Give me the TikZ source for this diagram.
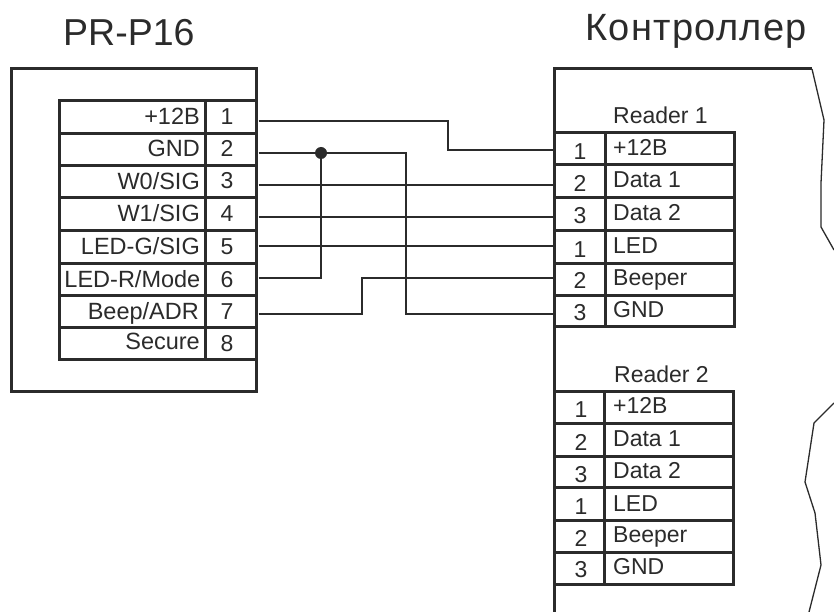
\documentclass[tikz,border=0pt]{standalone}
\usepackage{fontspec}
\setmainfont{Liberation Sans}
\definecolor{ink}{HTML}{2B2B2B}
\tikzset{
  heavy/.style={draw=ink,line width=3pt,line join=miter},
  wire/.style={draw=ink,line width=1.4pt,line join=miter},
  brk/.style={draw=ink,line width=1.3pt,line join=round},
  lab/.style={text=ink,inner sep=0pt,font=\fontsize{23}{27}\selectfont},
  title/.style={text=ink,inner sep=0pt,font=\fontsize{37.5}{42}\selectfont,anchor=base west},
  rlab/.style={lab,anchor=base east,font=\fontsize{23.5}{27}\selectfont},
  llab/.style={lab,anchor=base west},
  num/.style={lab,anchor=base},
  junction/.style={circle,fill=ink,inner sep=0pt,minimum size=12pt}
}
\begin{document}
\begin{tikzpicture}[x=1pt,y=-1pt]
\useasboundingbox (0,0) rectangle (834,612);
\fill[white] (0,0) rectangle (834,612);
% titles
\node[title] (tleft) at (63,46) {PR-P16};
\node[title,font=\fontsize{38}{42}\selectfont\addfontfeature{LetterSpace=3.5}] (tright) at (585,41) {Контроллер};
% left housing and connector
\draw[heavy] (11,69) rectangle (256,391);
\draw[heavy] (59,101) rectangle (256,359);
\draw[heavy] (205,101) -- (205,359);
\foreach \y in {134,166,198,230,263,295,327} \draw[heavy] (59,\y) -- (256,\y);
\node[rlab] (l1) at (200,124.5) {+12В};
\node[rlab] (l2) at (200,157) {GND};
\node[rlab] (l3) at (200,190) {W0/SIG};
\node[rlab] (l4) at (200,222) {W1/SIG};
\node[rlab] (l5) at (200,254) {LED-G/SIG};
\node[rlab] (l6) at (200.5,287) {LED-R/Mode};
\node[rlab] (l7) at (199,319) {Beep/ADR};
\node[rlab] (l8) at (200,349) {Secure};
\node[num] (n1) at (227,125) {1};
\node[num] (n2) at (227,157) {2};
\node[num] (n3) at (227,189) {3};
\node[num] (n4) at (227,222) {4};
\node[num] (n5) at (227,254) {5};
\node[num] (n6) at (227,287) {6};
\node[num] (n7) at (227,319) {7};
\node[num] (n8) at (227,351) {8};
% controller housing
\draw[heavy] (812,69) -- (554,69) -- (554,612);
\draw[brk] (812,69) -- (824,120) -- (821,183) -- (821,227) -- (834,250);
\draw[brk] (834,403) -- (814,423) -- (805,482) -- (815,513) -- (821,565) -- (809,612);
% reader 1
\draw[heavy] (554,133) rectangle (734,326);
\draw[heavy] (605,133) -- (605,326);
\foreach \y in {165,198,230,263,295} \draw[heavy] (554,\y) -- (734,\y);
\node[llab] (r1h) at (613,124) {Reader 1};
\node[llab] (a1) at (613,156) {+12В};
\node[llab] (a2) at (613,188) {Data 1};
\node[llab] (a3) at (613,220) {Data 2};
\node[llab] (a4) at (613,253) {LED};
\node[llab] (a5) at (613,285) {Beeper};
\node[llab] (a6) at (613,317) {GND};
\node[num] (p1) at (580,160) {1};
\node[num] (p2) at (580,192) {2};
\node[num] (p3) at (580,223) {3};
\node[num] (p4) at (580,257) {1};
\node[num] (p5) at (580,288) {2};
\node[num] (p6) at (580,320) {3};
% reader 2
\draw[heavy] (554,391) rectangle (733,584);
\draw[heavy] (604,391) -- (604,584);
\foreach \y in {423,456,487,520,552} \draw[heavy] (554,\y) -- (733,\y);
\node[llab] (r2h) at (614,382) {Reader 2};
\node[llab] (b1) at (613,413) {+12В};
\node[llab] (b2) at (613,446) {Data 1};
\node[llab] (b3) at (613,478) {Data 2};
\node[llab] (b4) at (613,511) {LED};
\node[llab] (b5) at (613,542) {Beeper};
\node[llab] (b6) at (613,574) {GND};
\node[num] (q1) at (581,417) {1};
\node[num] (q2) at (581,450) {2};
\node[num] (q3) at (581,482) {3};
\node[num] (q4) at (581,514) {1};
\node[num] (q5) at (581,546) {2};
\node[num] (q6) at (581,577) {3};
% wire ends
\coordinate (o1) at (258.5,121);
\coordinate (o2) at (258.5,153);
\coordinate (o3) at (258.5,185);
\coordinate (o4) at (258.5,217);
\coordinate (o5) at (258.5,246);
\coordinate (o6) at (258.5,278);
\coordinate (o7) at (258.5,314);
\coordinate (i1) at (553,150);
\coordinate (i2) at (553,185);
\coordinate (i3) at (553,217);
\coordinate (i4) at (553,246);
\coordinate (i5) at (553,278);
\coordinate (i6) at (553,314);
\node[junction] (dot) at (321,153) {};
% wires
\draw[wire] (o1) -- (448,121) -- (448,150) -- (i1);
\draw[wire] (o2) -- (dot) -- (406,153) -- (406,314) -- (i6);
\draw[wire] (o3) -- (i2);
\draw[wire] (o4) -- (i3);
\draw[wire] (o5) -- (i4);
\draw[wire] (o6) -- (321,278) -- (dot);
\draw[wire] (o7) -- (362,314) -- (362,278) -- (i5);
\end{tikzpicture}
\end{document}
